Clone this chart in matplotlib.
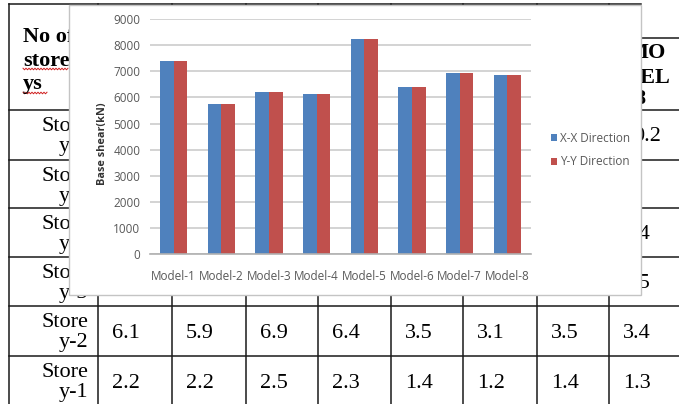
import numpy as np
import matplotlib.pyplot as plt
from matplotlib.patches import Rectangle

# chart data
models = ['Model-1', 'Model-2', 'Model-3', 'Model-4', 'Model-5', 'Model-6', 'Model-7', 'Model-8']
xx_dir = [7400, 5750, 6220, 6140, 8250, 6400, 6920, 6870]
yy_dir = [7400, 5750, 6220, 6140, 8250, 6400, 6920, 6870]

# table behind the chart (only the parts that show)
row_labels = ['y-6', 'y-5', 'y-4', 'y-3', 'y-2', 'y-1']
storey2 = ['6.1', '5.9', '6.9', '6.4', '3.5', '3.1', '3.5', '3.4']
storey1 = ['2.2', '2.2', '2.5', '2.3', '1.4', '1.2', '1.4', '1.3']
model8_upper = ['0.2', '', '7.4', '5.5']

W, H = 679, 404
fig = plt.figure(figsize=(W / 100, H / 100), dpi=100)

bg = fig.add_axes([0, 0, 1, 1])
bg.set_xlim(0, W)
bg.set_ylim(H, 0)
bg.axis('off')

serif = 'Liberation Serif'
sans = 'Open Sans'
line_c = '#1a1a1a'
row_tops = [110, 160, 208, 257, 306, 356]
col_lefts = [98, 172, 246, 318, 391, 463, 537, 609]

for y in row_tops:
    bg.plot([9, W], [y, y], color=line_c, lw=1.1)
bg.plot([9, 641], [4, 4], color=line_c, lw=1.1)
bg.plot([641, W], [38, 38], color=line_c, lw=1.1)
for x in [9] + col_lefts:
    bg.plot([x, x], [4, H], color=line_c, lw=1.1)

# header
for txt, yb in zip(['No of', 'store', 'ys'], [42, 66, 89]):
    bg.text(23, yb, txt, family=serif, fontsize=16, weight='bold', va='baseline')
for txt, xb, yb in zip(['MO', 'DEL', '8'], [628, 625, 634], [58, 83, 104]):
    bg.text(xb, yb, txt, family=serif, fontsize=16, weight='bold', va='baseline')
# spell-check squiggles
for x0, x1, yw in [(23, 69, 69), (23, 48, 93)]:
    sx = np.arange(x0, x1, 1.5)
    sy = yw + np.where(np.arange(len(sx)) % 2 == 0, -0.8, 0.8)
    bg.plot(sx, sy, color='#d02020', lw=0.7)

for top, lab in zip(row_tops, row_labels):
    bg.text(88, top + 21, 'Store', family=serif, fontsize=16, ha='right', va='baseline')
    bg.text(88, top + 41, lab, family=serif, fontsize=16, ha='right', va='baseline')

for top, vals in zip(row_tops[4:], [storey2, storey1]):
    for cx, v in zip(col_lefts, vals):
        bg.text(cx + 14, top + 32, v, family=serif, fontsize=16, va='baseline')
for top, v, dx in zip(row_tops[:4], model8_upper, [24, 14, 14, 14]):
    bg.text(col_lefts[-1] + dx, top + 31, v, family=serif, fontsize=16, va='baseline')

# chart panel
bg.add_patch(Rectangle((69, 5), 572, 290, facecolor='white', edgecolor='#c4c4c4', lw=1, zorder=10))

ax = fig.add_axes([150 / W, 1 - 254.3 / H, 381 / W, 235.3 / H])
x = np.arange(len(models))
w = 0.285
ax.bar(x - w / 2, xx_dir, w, color='#4F81BD', label='X-X Direction')
ax.bar(x + w / 2, yy_dir, w, color='#C0504D', label='Y-Y Direction')
ax.set_xlim(-0.5, len(models) - 0.5)
ax.set_ylim(0, 9000)
ax.set_yticks(np.arange(0, 9001, 1000))
ax.set_xticks(x)
ax.set_xticklabels(models)
ax.set_facecolor('white')
ax.yaxis.grid(True, color='#cccccc', lw=1.2)
ax.set_axisbelow(True)
for s in ['top', 'right', 'left']:
    ax.spines[s].set_visible(False)
ax.spines['bottom'].set_color('#b0b0b0')
ax.spines['bottom'].set_linewidth(1.2)
ax.tick_params(axis='y', length=0, pad=7, labelsize=8.5, labelcolor='#595959')
ax.tick_params(axis='x', length=0, pad=11, labelsize=8.5, labelcolor='#595959')
for lbl in ax.get_xticklabels() + ax.get_yticklabels():
    lbl.set_family(sans)
ax.set_ylabel('Base shear(kN)', family=sans, fontsize=7.8, weight='bold', color='#333333')
ax.yaxis.set_label_coords(-0.11, 0.47)

ax.legend(loc='center left', bbox_to_anchor=(551 / W, 1 - 150 / H), bbox_transform=fig.transFigure,
          frameon=False, borderpad=0, borderaxespad=0, handlelength=0.55, handleheight=0.55,
          handletextpad=0.25, labelspacing=0.9, prop={'family': sans, 'size': 8.5},
          labelcolor='#595959')

plt.savefig('out.png', dpi=100)
